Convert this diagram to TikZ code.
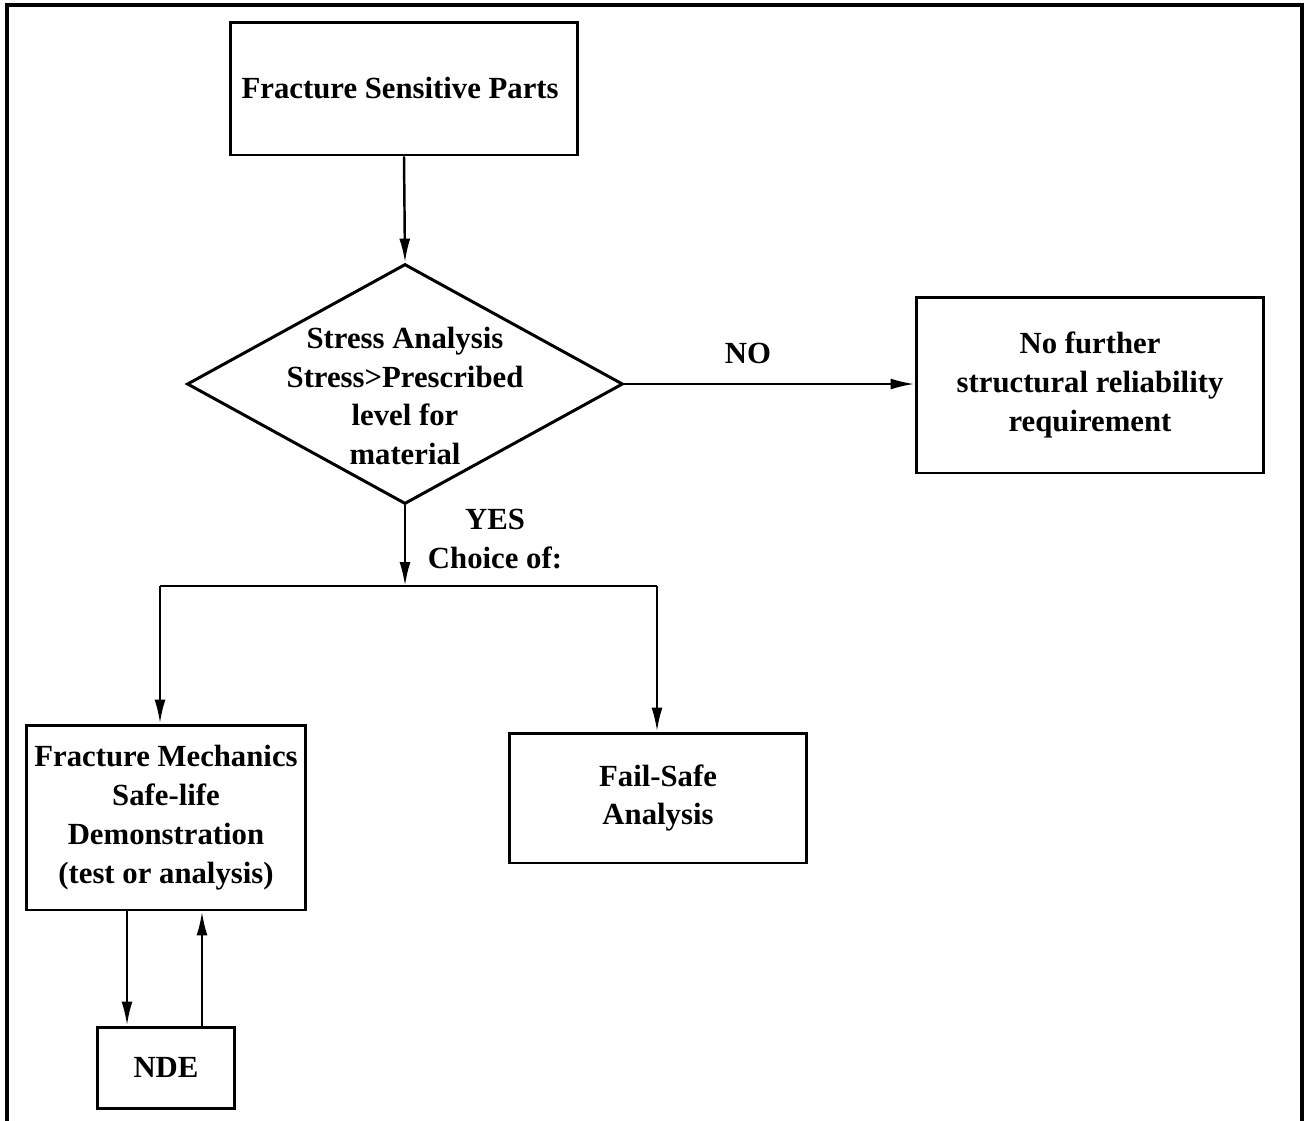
\documentclass[tikz,border=0pt]{standalone}
\usepackage{fontspec}
\setmainfont{Liberation Serif}
\usepackage{tikz}
\usetikzlibrary{shapes.geometric, arrows.meta, positioning, calc}

\begin{document}
\begin{tikzpicture}[
    x=0.02cm, y=-0.02cm,
    box/.style={draw, line width=1.7pt, align=center, inner sep=2pt, font=\fontsize{17.5}{22.1}\selectfont\bfseries},
    decision/.style={draw, diamond, line width=1.7pt, inner sep=0pt, minimum width=8.72cm, minimum height=4.8cm},
    txt/.style={align=center, font=\fontsize{17.5}{22.1}\selectfont\bfseries},
    arrow/.style={-{Latex[length=0.48cm, width=0.22cm]}, line width=1.4pt},
]
    \useasboundingbox (0,0) rectangle (1304,1120);
    \draw[line width=1.8pt] (7,5) rectangle (1302,1140);

    % Start
    \node[box, minimum width=6.96cm, minimum height=2.66cm] (parts) at (404,88.5) {
        Fracture Sensitive Parts
    };

    % Decision
    \node[decision] (stress) at (405,384) {};
    \node[txt] (stresstxt) at ($(stress.center)+(0,12)$) {
        Stress Analysis\\
        Stress>Prescribed\\
        level for\\
        material
    };

    \node[box, minimum width=6.96cm, minimum height=3.52cm] (noreq) at (1090,385) {
        No further\\
        structural reliability\\
        requirement
    };

    % Choices
    \coordinate (forkL) at (160,586);
    \coordinate (forkR) at (657,586);

    \node[box, minimum width=5.6cm, minimum height=3.7cm] (safelife) at (166,817.5) {
        Fracture Mechanics\\
        Safe-life\\
        Demonstration\\
        (test or analysis)
    };

    \node[box, minimum width=5.96cm, minimum height=2.6cm] (failsafe) at (658,798) {
        Fail-Safe\\
        Analysis
    };

    \node[box, minimum width=2.76cm, minimum height=1.62cm] (nde) at (166,1067.5) {NDE};

    % Labels
    \node[txt] (nolbl) at (748,353) {NO};
    \node[txt] (yeslbl) at (495,539) {YES\\Choice of:};

    % Arrows
    \draw[arrow] (parts.south) -- (stress.north);
    \draw[arrow] (stress.east) -- (stress.east -| noreq.west);
    \draw[arrow] (stress.south) -- (stress.south |- forkL);
    \draw[line width=1.4pt] (forkL) -- (forkR);
    \draw[arrow] (forkL) -- (forkL |- safelife.north);
    \draw[arrow] (forkR) -- (forkR |- failsafe.north);
    \draw[arrow] ([xshift=-0.78cm]safelife.south) -- ([xshift=-0.78cm]nde.north);
    \draw[arrow] ([xshift=0.72cm]nde.north) -- ([xshift=0.72cm]safelife.south);
\end{tikzpicture}
\end{document}
